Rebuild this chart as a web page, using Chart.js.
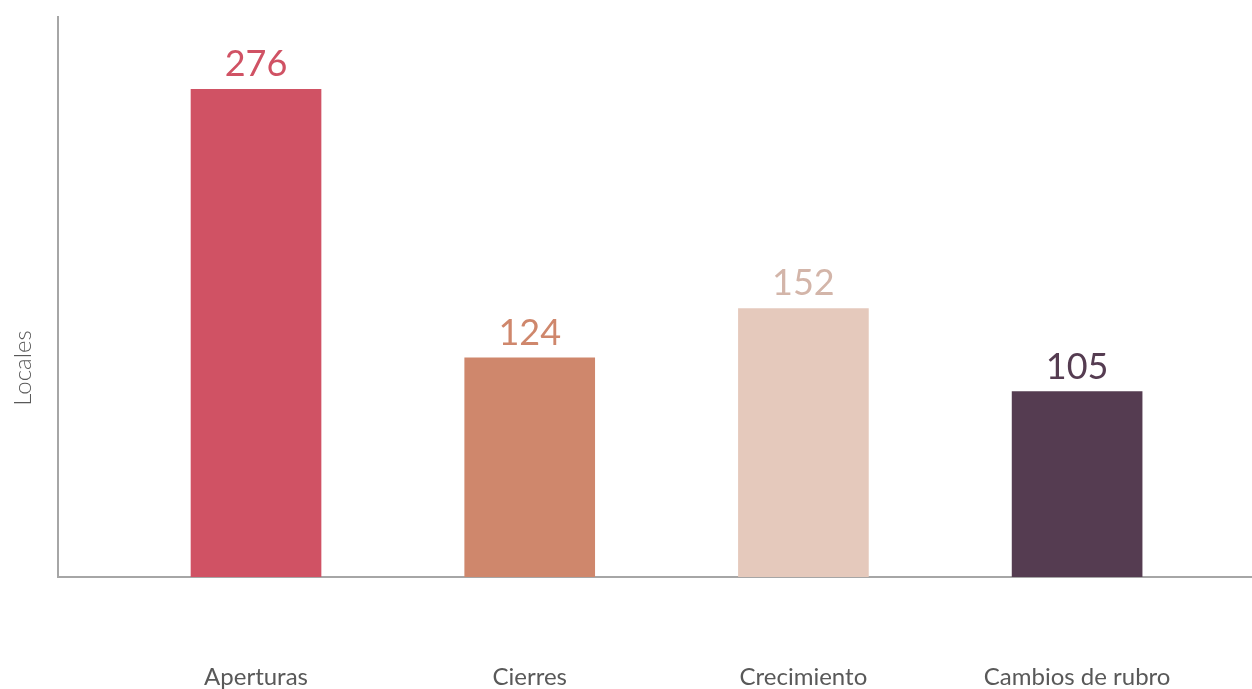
<!DOCTYPE html>
<html>
<head>
<meta charset="utf-8">
<script src="https://cdn.jsdelivr.net/npm/chart.js@4"></script>
<style>
  html, body { margin: 0; padding: 0; background: #fff; }
  #wrap { width: 1252px; height: 689px; position: relative; }
</style>
</head>
<body>
<div id="wrap"><canvas id="locChart"></canvas></div>
<script>
"use strict";

// chart data
const categories = ['Aperturas', 'Cierres', 'Crecimiento', 'Cambios de rubro'];
const values = [276, 124, 152, 105];
const barColors = ['#D05264', '#CF876C', '#E5C9BC', '#553C51'];
const labelColors = ['#D05264', '#CF876C', '#D3B5A9', '#553C51'];
const yTitle = 'Locales';

const FONT = 'Lato, "Open Sans", sans-serif';

// draw the value on top of each bar
const valueLabels = {
  id: 'valueLabels',
  afterDatasetsDraw: (chart) => {
    const ctx = chart.ctx;
    const meta = chart.getDatasetMeta(0);
    ctx.save();
    ctx.font = `36px ${FONT}`;
    ctx.textAlign = 'center';
    ctx.textBaseline = 'alphabetic';
    meta.data.forEach((bar, i) => {
      ctx.fillStyle = labelColors[i];
      ctx.fillText(String(values[i]), bar.x, bar.y - 13);
    });
    ctx.restore();
  }
};

// y axis title, sits lower than the plot centre in the original
const axisTitle = {
  id: 'axisTitle',
  afterDraw: (chart) => {
    const ctx = chart.ctx;
    ctx.save();
    ctx.translate(31, 368);
    ctx.rotate(-Math.PI / 2);
    ctx.font = `300 24px ${FONT}`;
    ctx.fillStyle = '#595959';
    ctx.textAlign = 'center';
    ctx.textBaseline = 'alphabetic';
    ctx.fillText(yTitle, 0, 0);
    ctx.restore();
  }
};

const ctxLoc = document.getElementById('locChart');
new Chart(ctxLoc, {
  type: 'bar',
  data: {
    datasets: [{
      data: values.map((v, i) => ({ x: i, y: v })),
      backgroundColor: barColors,
      borderWidth: 0,
      barThickness: 130
    }]
  },
  options: {
    responsive: true,
    maintainAspectRatio: false,
    animation: false,
    layout: { padding: { top: 17, right: 0, left: 0, bottom: 0 } },
    plugins: {
      legend: { display: false },
      tooltip: { enabled: false }
    },
    scales: {
      x: {
        type: 'linear',
        offset: false,
        min: -0.7235,
        max: 3.639,
        grid: { display: false, drawTicks: false, offset: false },
        border: { display: true, color: '#A6A6A6', width: 2 },
        afterBuildTicks: (scale) => {
          scale.ticks = categories.map((c, i) => ({ value: i }));
        },
        afterFit: (scale) => {
          scale.height = 112;
          scale.paddingLeft = 0;
          scale.paddingRight = 0;
        },
        ticks: {
          autoSkip: false,
          maxRotation: 0,
          padding: 86,
          color: '#595959',
          font: { size: 24, family: FONT },
          callback: (value) => categories[value]
        }
      },
      y: {
        min: 0,
        max: 317,
        grid: { display: false, drawTicks: false },
        border: { display: true, color: '#A6A6A6', width: 2 },
        ticks: { display: false },
        afterFit: (scale) => { scale.width = 58; }
      }
    }
  },
  plugins: [valueLabels, axisTitle]
});
</script>
</body>
</html>
